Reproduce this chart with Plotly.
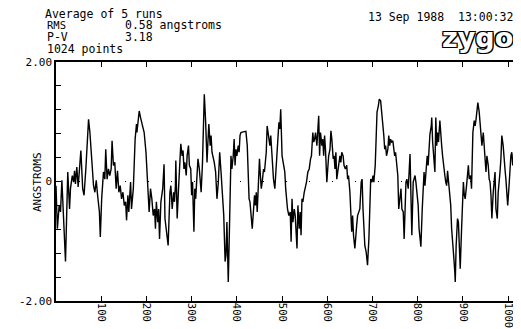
import plotly.graph_objects as go

idx = [0, 3, 7, 10, 13, 16, 18, 21, 26, 30, 32, 36, 39, 41, 43, 46, 49, 55, 59, 62, 66, 72, 75, 79, 83, 86, 89, 92, 96, 98,
       101, 105, 108, 110, 113, 116, 119, 122, 124, 127, 130, 133, 136, 139, 142, 145, 148, 151, 154, 156, 159, 161, 163, 165, 167, 171, 175, 178, 179, 181,
       184, 187, 190, 195, 199, 202, 204, 206, 209, 212, 215, 218, 220, 222, 225, 227, 229,
       232, 236, 239, 241, 245, 248, 252, 254, 257, 260, 262, 264, 265, 268, 271, 273, 276, 279, 281, 283, 285, 288, 290, 293, 295, 298,
       300, 302, 305, 307, 309, 311, 314, 317, 319, 321, 324, 326, 328, 331, 334, 336, 338, 341, 343, 345, 347, 350, 353, 356, 359, 362, 365, 368,
       371, 374, 376, 378, 381, 383, 385, 387, 389, 392, 394, 396, 398, 400, 403, 405, 407, 409, 414, 420, 423, 425, 427, 429, 432, 434, 437, 439,
       441, 443, 445, 448, 450, 452, 454, 456, 459, 461, 465, 467, 470, 473, 475, 478, 481, 484, 487, 490, 493, 495, 497,
       500, 503, 506, 508, 510, 512, 515, 518, 520, 522, 524, 527, 529, 531, 533, 535, 538, 540, 542, 544, 546, 549, 551, 554, 557, 560, 563, 565, 568,
       570, 572, 574, 577, 579, 581, 583, 585, 588, 590, 592, 594, 596, 599, 601, 603, 606, 608, 610, 613, 615, 617, 619, 621, 624, 626, 628, 630, 632,
       635, 637, 640, 643, 645, 647, 650, 652, 654, 656, 658, 661, 663, 665, 667, 669, 672, 675, 677, 679, 681, 683, 686, 689, 692, 694, 696, 699,
       701, 703, 706, 708, 710, 713, 715, 718, 720, 722, 725, 727, 729, 731, 734, 736, 738, 740, 742, 745, 747, 749, 751, 753, 756, 758,
       761, 763, 765, 768, 770, 772, 774, 776, 779, 781, 783, 785, 787, 790, 792, 794, 796, 798, 801, 803, 805, 807, 810, 812, 814, 816, 818,
       821, 823, 825, 827, 830, 831, 833, 835, 838, 840, 842, 844, 846, 849, 851, 853, 855, 858, 860, 862, 864, 866, 869, 871, 873, 875, 877,
       880, 882, 883, 885, 888, 890, 892, 894, 897, 899, 901, 903, 905, 908, 910, 912, 914, 917, 919, 921, 922, 925, 927, 929, 931, 933, 936, 938,
       940, 942, 945, 947, 949, 951, 953, 956, 958, 960, 962, 964, 967, 969, 971, 973, 976, 978, 980, 982, 984, 986, 989, 991, 993, 995, 997, 999,
       1002, 1004, 1006, 1008, 1010, 1013, 1015, 1017, 1019, 1021, 1023]
height = [-0.07, -0.79, -0.40, -0.51, 0.02, -0.57, -0.79, -1.34, 0.16, -0.46, -0.12, 0.10, -0.01, 0.18, -0.04, 0.24, -0.09, 0.52, -0.12, -0.23, 0.21, 1.04, 0.82, 0.43, -0.07, -0.18, 0.02, -0.23, -0.51, -0.93,
          -0.29, 0.16, 0.04, 0.54, 0.04, 0.21, 0.10, 0.21, 0.68, 0.27, 0.32, -0.12, 0.18, -0.18, -0.07, -0.29, -0.18, -0.40, -0.34, -0.65, -0.23, -0.51, -0.29, -0.01, -0.46, -0.12, 0.71, 0.96, 0.82, 0.99,
          1.18, 1.07, 0.99, 0.82, 0.49, 0.10, -0.18, -0.51, -0.12, -0.29, -0.57, -0.46, -0.79, -0.34, -0.68, -0.46, -0.96,
          -0.34, -0.12, 0.29, -0.62, -0.90, -1.07, -0.18, -0.07, -0.46, -0.18, -0.34, -0.09, 0.35, -0.62, -0.12, 0.27, 0.63, 0.43, 0.52, 0.21, 0.32, 0.10, 0.43, 0.60, 0.27, 0.21,
          -0.23, -0.01, -0.84, -0.12, -0.29, -0.01, 0.38, 0.21, -0.07, -0.18, 0.32, 0.93, 1.46, 0.99, 0.32, 0.66, 0.96, 0.60, 0.77, 0.49, 0.43, 0.32, 0.16, -0.29, -0.01, 0.49, 0.16, -0.23,
          -0.57, -1.34, -1.23, -0.68, -1.68, -1.01, -0.12, 0.43, 0.21, 0.43, 0.71, 0.27, 0.54, 0.43, 0.60, 0.49, 0.77, 0.82, 0.83, 0.84, 0.60, -0.01, -0.29, -0.34, -0.68, -0.79, -0.46, -0.23,
          -0.40, -0.18, -0.51, 0.21, 0.38, 0.10, -0.12, -0.01, 0.21, 0.16, 0.49, 0.93, 0.71, 0.60, 0.77, 0.27, 0.04, -0.12, 0.27, 0.49, 0.99, 0.88, 1.21,
          0.43, 0.27, 0.16, -0.12, -0.40, -0.46, -0.57, -0.51, -1.01, -0.29, -0.68, -0.46, -0.57, -1.01, -1.12, -0.40, -0.79, -0.51, -0.90, -0.29, -0.34, -0.18, -0.12, -0.01, 0.16, 0.21, 0.38, 0.43, 0.82,
          0.66, 0.71, 0.82, 0.60, 0.93, 1.10, 0.43, 0.82, 0.60, 0.71, 0.43, 0.77, 0.54, -0.01, 0.21, 0.43, 0.54, 0.85, 0.71, 0.38, 0.43, 0.21, 0.49, 0.04, 0.21, 0.32, 0.43, 0.32, 0.49,
          0.43, 0.27, 0.21, 0.27, 0.04, 0.10, -0.18, -0.57, -0.84, -0.57, -0.90, -1.12, -0.79, -0.73, -0.57, -0.51, -0.46, -0.01, 0.04, -0.46, -0.90, -1.07, -1.18, -1.40, -0.96, -0.29, 0.04, -0.01,
          0.10, -0.01, 0.27, 0.71, 1.16, 1.27, 1.38, 1.35, 1.21, 0.99, 0.77, 0.54, 0.60, 0.43, 0.54, 0.77, 0.60, 0.71, 0.66, 0.68, 0.54, 0.43, 0.49, 0.32, 0.10, -0.46,
          -0.29, -0.12, -0.46, -0.51, -0.96, -0.34, -0.01, 0.04, -0.12, 0.16, 0.46, -0.23, -0.90, -0.01, 0.04, 0.10, -0.01, -0.18, -0.40, -0.79, -0.96, -1.09, -0.46, -0.23, 0.16, -0.07, 0.10,
          0.43, 0.27, 0.71, 0.79, 0.93, 1.07, 0.66, 0.49, 0.16, 1.07, 0.60, 0.82, 0.66, 1.02, 0.71, 0.60, 0.43, 0.16, 0.10, -0.01, -0.07, 0.18, -0.07, -0.23, -0.40, -0.79, -1.07,
          -1.29, -1.51, -1.68, -1.07, -0.62, -0.68, -0.96, -1.46, -0.79, -0.34, -0.01, -0.23, -0.29, -0.07, 0.10, 0.27, 0.04, 0.10, -0.12, 0.43, 0.82, 1.02, 0.93, 1.04, 1.16, 1.32, 1.16, 0.99,
          0.71, 0.60, 0.82, 0.54, 0.38, 0.16, 0.43, 0.27, 0.04, -0.01, -0.23, -0.62, -0.18, -0.01, 0.16, -0.46, -0.62, -0.18, 0.10, 0.16, 0.38, 0.77, 0.60, 0.27, 0.21, 0.04, -0.12, -0.40,
          -0.07, 0.27, 0.43, 0.49, 0.27, 0.54, 0.38, 0.49, 0.60, 0.43, 0.71]

x_ticks = [100, 200, 300, 400, 500, 600, 700, 800, 900, 1000]
x_ticktext = ["100", "200", "300", "400", "500", "600", "700", "800", "900", "1000"]
y_ticks = [-2.0, -1.6, -1.2, -0.8, -0.4, 0.0, 0.4, 0.8, 1.2, 1.6, 2.0]
y_ticktext = ["-2.00", "", "", "", "", "0", "", "", "", "", "2.00"]

FONT = "DejaVu Sans Mono"
OFF = 8  # page body margin
W, H = 521 - OFF, 329 - OFF
L, R, T, B = 56 - OFF, 519 - OFF, 62 - OFF, 301 - OFF


def px(x):
    return (x - OFF - L) / (R - L)


def py(y):
    return (B - (y - OFF)) / (B - T)


fig = go.Figure()
fig.add_trace(go.Scatter(x=idx, y=height, mode="lines",
                         line=dict(color="black", width=1.4), hoverinfo="skip"))

fig.add_shape(type="line", xref="x", yref="y", x0=0, x1=1024, y0=0, y1=0,
              line=dict(color="black", width=1.2, dash="1px,22px"), layer="below")

ann = [
    dict(text="Average of 5 runs", x=px(43), y=py(14), xanchor="left"),
    dict(text="RMS", x=px(45), y=py(25), xanchor="left", size=10.5),
    dict(text="0.58 angstroms", x=px(123), y=py(25), xanchor="left"),
    dict(text="P-V", x=px(45), y=py(37), xanchor="left"),
    dict(text="3.18", x=px(123), y=py(37), xanchor="left"),
    dict(text="1024 points", x=px(45), y=py(49), xanchor="left"),
    dict(text="13 Sep 1988  13:00:32", x=px(366), y=py(17), xanchor="left"),
]
annotations = []
for a in ann:
    annotations.append(dict(text=a["text"], x=a["x"], y=a["y"], xref="paper", yref="paper",
                            xanchor=a["xanchor"], yanchor="middle", showarrow=False,
                            font=dict(family=FONT, size=a.get("size", 11.5), color="black")))
annotations.append(dict(text="ANGSTROMS", x=px(37), y=py(182), xref="paper", yref="paper",
                        textangle=-90, showarrow=False, xanchor="center", yanchor="middle",
                        font=dict(family=FONT, size=11, color="black")))
annotations.append(dict(text="<b>zygo</b>", x=px(477), y=py(37), xref="paper", yref="paper",
                        showarrow=False, xanchor="center", yanchor="middle",
                        font=dict(family="DejaVu Sans", size=27, color="white",
                                  shadow="1.3px 1.3px 0 black, -1.3px -1.3px 0 black, 1.3px -1.3px 0 black, -1.3px 1.3px 0 black")))

fig.update_layout(
    width=W, height=H,
    margin=dict(l=L, r=W - R, t=T, b=H - B, autoexpand=False),
    paper_bgcolor="white", plot_bgcolor="white",
    showlegend=False,
    font=dict(family=FONT, size=11, color="black"),
    annotations=annotations,
    xaxis=dict(range=[0, 1024], tickvals=x_ticks, ticktext=x_ticktext, tickangle=90,
               ticks="inside", ticklen=5, tickwidth=1.2, tickcolor="black",
               showline=True, linecolor="black", linewidth=1.5, mirror="ticks",
               showgrid=False, zeroline=False, automargin=False, ticklabelstandoff=-2,
               tickfont=dict(family=FONT, size=10.5)),
    yaxis=dict(range=[-2, 2], tickvals=y_ticks, ticktext=y_ticktext,
               ticks="inside", ticklen=5, tickwidth=1.2, tickcolor="black",
               showline=True, linecolor="black", linewidth=1.5, mirror="ticks",
               showgrid=False, zeroline=False, automargin=False,
               tickfont=dict(family=FONT, size=11)),
)

fig.write_html("out.html")
